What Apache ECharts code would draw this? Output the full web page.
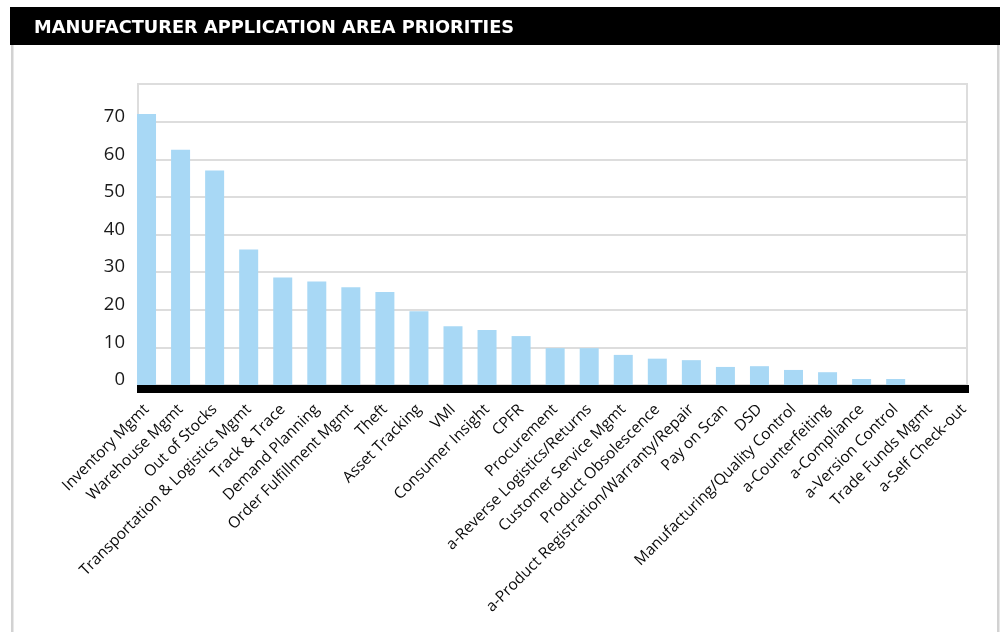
<!DOCTYPE html>
<html>
<head>
<meta charset="utf-8">
<script src="https://cdn.jsdelivr.net/npm/echarts@6/dist/echarts.min.js"></script>
<style>html,body{margin:0;padding:0;background:#fff;}#c{width:1000px;height:632px;}</style>
</head>
<body>
<div id="c"></div>
<script>
const titleText = 'MANUFACTURER APPLICATION AREA PRIORITIES';
const categories = [
  'Inventory Mgmt', 'Warehouse Mgmt', 'Out of Stocks', 'Transportation & Logistics Mgmt',
  'Track & Trace', 'Demand Planning', 'Order Fulfillment Mgmt', 'Theft', 'Asset Tracking',
  'VMI', 'Consumer Insight', 'CPFR', 'Procurement', 'a-Reverse Logistics/Returns',
  'Customer Service Mgmt', 'Product Obsolescence', 'a-Product Registration/Warranty/Repair',
  'Pay on Scan', 'DSD', 'Manufacturing/Quality Control', 'a-Counterfeiting', 'a-Compliance',
  'a-Version Control', 'Trade Funds Mgmt', 'a-Self Check-out'
];
const values = [72, 62.5, 57, 36, 28.6, 27.5, 26, 24.7, 19.6, 15.6, 14.6, 13, 9.8, 9.8, 8, 7, 6.6, 4.8, 5, 4, 3.4, 1.6, 1.6, 0, 0];
const yTicks = [0, 10, 20, 30, 40, 50, 60, 70];

const chart = echarts.init(document.getElementById('c'), null, {renderer: 'canvas'});
chart.setOption({
  backgroundColor: '#fff',
  animation: false,
  graphic: [
    {type: 'rect', shape: {x: 10, y: 7, width: 990, height: 38}, style: {fill: '#000'}, z: 0},
    {type: 'rect', shape: {x: 11, y: 45, width: 2.5, height: 600}, style: {fill: '#d2d2d2'}, z: 0},
    {type: 'rect', shape: {x: 997, y: 45, width: 2.5, height: 600}, style: {fill: '#d2d2d2'}, z: 0}
  ],
  title: {
    text: titleText, left: 34, top: 19, padding: 0,
    textStyle: {color: '#fff', fontFamily: 'DejaVu Sans', fontWeight: 'bold', fontSize: 17.8}
  },
  grid: [
    {left: 129.5, right: 19.2, top: 84, bottom: 247, containLabel: false},
    {left: 138, right: 33, top: 84, bottom: 247, show: true, borderColor: '#dddddd', borderWidth: 2, backgroundColor: 'transparent', z: 0},
    {left: 137, right: 31, top: 84, bottom: 243, containLabel: false}
  ],
  xAxis: [
    {
      type: 'category', gridIndex: 0, data: categories,
      axisLine: {show: false}, axisTick: {show: false},
      axisLabel: {
        interval: 0, rotate: 45, margin: 22, color: '#0a0a0a',
        fontFamily: 'Open Sans', fontSize: 15.5
      }
    },
    {
      type: 'value', gridIndex: 1, min: 0, max: 1, show: false
    },
    {
      type: 'value', gridIndex: 2, min: 0, max: 1, z: 20,
      axisLine: {show: true, lineStyle: {color: '#000', width: 8, cap: 'butt'}},
      axisTick: {show: false}, axisLabel: {show: false}, splitLine: {show: false}
    }
  ],
  yAxis: [
    {type: 'value', gridIndex: 0, min: 0, max: 80, show: false, splitLine: {show: false}},
    {
      type: 'value', gridIndex: 1, min: 0, max: 80, interval: 10,
      axisLine: {show: false}, axisTick: {show: false},
      splitLine: {show: true, lineStyle: {color: '#dddddd', width: 2}},
      axisLabel: {
        margin: 13, color: '#1a1a1a', fontFamily: 'Open Sans', fontSize: 18.5,
        verticalAlign: 'bottom', lineHeight: 10,
        formatter: v => (yTicks.indexOf(v) >= 0 ? String(v) : '')
      }
    },
    {type: 'value', gridIndex: 2, min: 0, max: 1, show: false, splitLine: {show: false}}
  ],
  series: [{
    type: 'bar', xAxisIndex: 0, yAxisIndex: 0, data: values,
    barWidth: 19, itemStyle: {color: '#a8d8f5'}, z: 3
  }]
});
</script>
</body>
</html>
